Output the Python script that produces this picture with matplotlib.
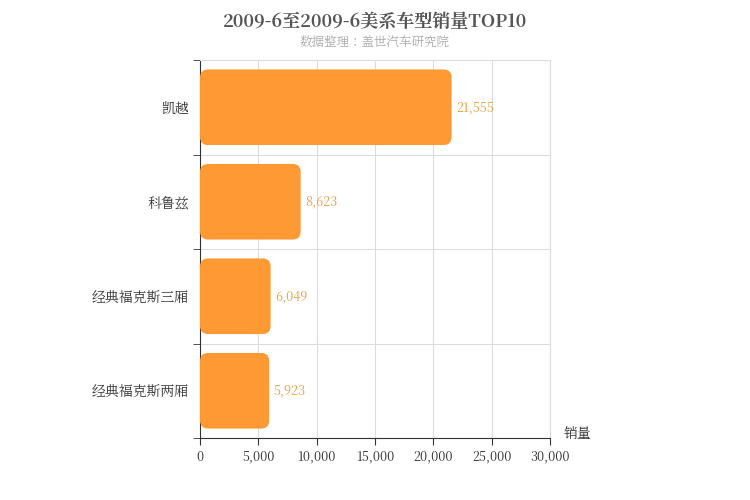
import matplotlib.pyplot as plt
from matplotlib import font_manager as fm
from matplotlib.patches import FancyBboxPatch

# find a CJK font file and register it
cjk = None
for f in fm.findSystemFonts():
    if "CJK" in f and ("SC" in f or "Regular" in f or ".ttc" in f):
        try:
            fm.fontManager.addfont(f)
            cjk = fm.FontProperties(fname=f).get_name()
            break
        except Exception:
            pass
plt.rcParams['font.sans-serif'] = [cjk or 'Noto Sans CJK SC', 'DejaVu Sans']
plt.rcParams['font.family'] = 'sans-serif'

models = ["凯越", "科鲁兹", "经典福克斯三厢", "经典福克斯两厢"]
sales = [21555, 8623, 6049, 5923]
xticks = [0, 5000, 10000, 15000, 20000, 25000, 30000]

fig = plt.figure(figsize=(7.5, 5), dpi=100)
ax = fig.add_axes([0.2667, 0.124, 0.4667, 0.756])
ax.set_xlim(0, 30000)
ax.set_ylim(-0.5, len(models) - 0.5)
ax.invert_yaxis()

# rounded bars: ~8px corner radius
xpp = 30000 / 350.0
ypp = 4 / 378.0
for i, v in enumerate(sales):
    h = 0.8
    p = FancyBboxPatch((0, i - h / 2), v, h,
                       boxstyle="round,pad=0,rounding_size=%f" % (8 * xpp),
                       mutation_aspect=ypp / xpp,
                       fc="#ff9933", ec="none", zorder=3)
    ax.add_patch(p)
    ax.text(v + 400, i, format(v, ","), va="center", ha="left",
            color="#e8a040", fontsize=9, zorder=4)

ax.set_xticks(xticks)
ax.set_xticklabels([format(t, ",") for t in xticks], fontsize=9, color="#333333")
ax.set_yticks(range(len(models)))
ax.set_yticklabels(models, fontsize=10, color="#333333")
ax.set_yticks([i + 0.5 for i in range(-1, len(models))], minor=True)
ax.tick_params(axis="y", which="major", length=0, pad=8)
ax.tick_params(axis="y", which="minor", length=5, color="#333333")
ax.tick_params(axis="x", length=5, color="#333333")
ax.grid(axis="x", color="#dddddd", lw=0.8, zorder=0)
ax.grid(axis="y", which="minor", color="#dddddd", lw=0.8, zorder=0)
for s in ["top", "right"]:
    ax.spines[s].set_color("#dddddd")
for s in ["left", "bottom"]:
    ax.spines[s].set_color("#333333")

ax.text(1.04, -0.01, "销量", transform=ax.transAxes, fontsize=10, color="#333333", va="bottom")
fig.text(0.5, 0.955, "2009-6至2009-6美系车型销量TOP10", ha="center", va="center",
         fontsize=13, fontweight="bold", color="#555555")
fig.text(0.5, 0.915, "数据整理：盖世汽车研究院", ha="center", va="center",
         fontsize=9, color="#aaaaaa")

fig.savefig("out.png", dpi=100)
